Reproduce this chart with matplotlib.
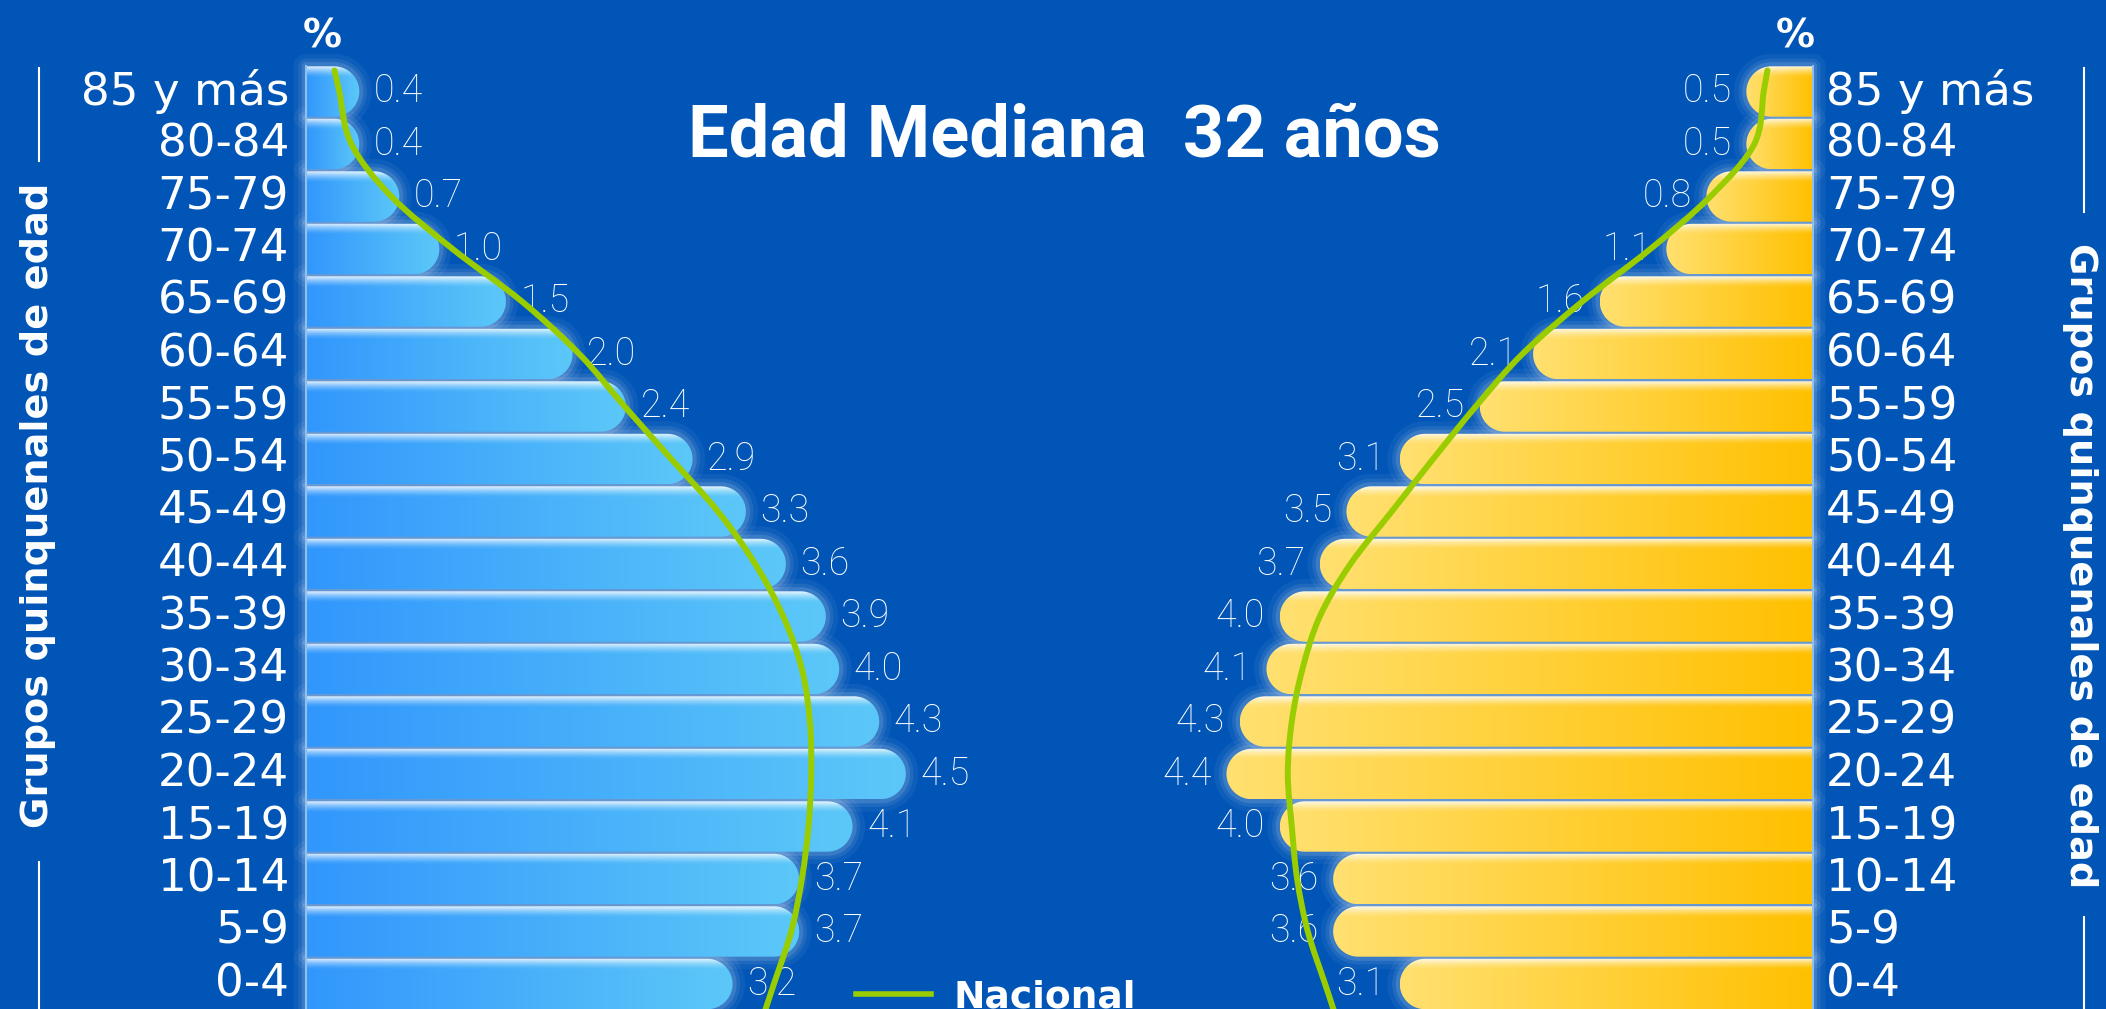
import numpy as np
import matplotlib
matplotlib.use('Agg')
import matplotlib.pyplot as plt
from matplotlib.colors import to_rgb
from matplotlib.path import Path
from matplotlib.patches import PathPatch
from matplotlib.lines import Line2D

# datos (de arriba hacia abajo)
grupos = ['85 y más', '80-84', '75-79', '70-74', '65-69', '60-64', '55-59', '50-54',
          '45-49', '40-44', '35-39', '30-34', '25-29', '20-24', '15-19', '10-14', '5-9', '0-4']
hombres = [0.4, 0.4, 0.7, 1.0, 1.5, 2.0, 2.4, 2.9, 3.3, 3.6, 3.9, 4.0, 4.3, 4.5, 4.1, 3.7, 3.7, 3.2]
mujeres = [0.5, 0.5, 0.8, 1.1, 1.6, 2.1, 2.5, 3.1, 3.5, 3.7, 4.0, 4.1, 4.3, 4.4, 4.0, 3.6, 3.6, 3.1]
# curva nacional
nacional_h = [0.25, 0.34, 0.64, 1.10, 1.62, 2.05, 2.39, 2.74, 3.09, 3.37, 3.58, 3.72, 3.78, 3.79, 3.77, 3.72, 3.64, 3.51]
nacional_m = [0.37, 0.44, 0.77, 1.22, 1.73, 2.18, 2.53, 2.85, 3.16, 3.47, 3.70, 3.83, 3.91, 3.94, 3.91, 3.87, 3.79, 3.66]

AZUL = '#0155B7'
VERDE = '#9ACD00'
W_PX, H_PX, DPI = 2106, 1009, 100
ESC_X = 133.3      # px por 1 %
ESC_Y = 52.5       # px por fila
X0_PX, X1_PX = 306, 1813
Y0_PX = 984
W = (X1_PX - X0_PX) / ESC_X
ALTO = 0.96

fig = plt.figure(figsize=(W_PX / DPI, H_PX / DPI), dpi=DPI, facecolor=AZUL)
ax = fig.add_axes([0, 0, 1, 1])
ax.set_facecolor(AZUL)
ax.axis('off')

n = len(grupos)
ypos = np.arange(n)[::-1]


def imagen_gradiente(c_ini, c_fin, nx=256, ny=64):
    c_ini, c_fin = np.array(to_rgb(c_ini)), np.array(to_rgb(c_fin))
    t = np.linspace(0, 1, nx)[:, None]
    base = (1 - t) * c_ini + t * c_fin
    s = np.linspace(0, 1, ny)
    brillo = 0.85 * np.clip(1 - s / 0.22, 0, 1) ** 1.5
    return base[None, :, :] * (1 - brillo[:, None, None]) + brillo[:, None, None]


def ruta_barra(base, largo, yc, sentido):
    ry = ALTO / 2
    rx = min(ry * ESC_Y / ESC_X, largo)
    xs = base + sentido * (largo - rx)
    t = np.linspace(-np.pi / 2, np.pi / 2, 40)
    verts = [(base, yc - ry)] + list(zip(xs + sentido * rx * np.cos(t), yc + ry * np.sin(t)))
    verts += [(base, yc + ry), (base, yc - ry)]
    return Path(verts, closed=True)


def barra(base, largo, yc, sentido, c_ini, c_fin):
    ruta = ruta_barra(base, largo, yc, sentido)
    for lw, a in [(18, 0.05), (11, 0.08), (6, 0.12)]:
        ax.add_patch(PathPatch(ruta, facecolor='none', edgecolor='white', lw=lw,
                               alpha=a, joinstyle='round', zorder=1))
    clip = PathPatch(ruta, facecolor='none', edgecolor='none')
    ax.add_patch(clip)
    x_a, x_b = sorted([base, base + sentido * largo])
    im = ax.imshow(imagen_gradiente(c_ini, c_fin), extent=[x_a, x_b, yc - ALTO / 2, yc + ALTO / 2],
                   aspect='auto', zorder=2, interpolation='bilinear')
    im.set_clip_path(clip)


fuente_valor = dict(family=['Roboto', 'Lato', 'DejaVu Sans'], weight='light', fontsize=27, color='white')
for y, v in zip(ypos, hombres):
    barra(0, v, y, 1, '#3197FD', '#5CC8F8')
    ax.text(v + 0.11, y, f'{v:.1f}', ha='left', va='center', zorder=4, **fuente_valor)
for y, v in zip(ypos, mujeres):
    barra(W, v, y, -1, '#FFE070', '#FFC000')
    ax.text(W - v - 0.11, y, f'{v:.1f}', ha='right', va='center', zorder=4, **fuente_valor)

# lineas del eje
for xe in (0, W):
    ax.plot([xe, xe], [ypos.min() - ALTO / 2, ypos.max() + ALTO / 2], color='#8EC1F0', lw=1.5, zorder=3)

# etiquetas de grupos
for y, g in zip(ypos, grupos):
    ax.text(-(X0_PX - 289) / ESC_X, y, g, ha='right', va='center', fontsize=32.5, color='white')
    ax.text(W + (1826 - X1_PX) / ESC_X, y, g, ha='left', va='center', fontsize=32.5, color='white')


def curva(xs, ys):
    pts = np.column_stack([xs, ys]).astype(float)
    ini = pts[0] + (pts[0] - pts[1]) * 0.4
    fin = pts[-1] + (pts[-1] - pts[-2]) * 0.6
    pts = np.vstack([ini, pts, fin])
    verts, codes = [tuple(pts[0])], [Path.MOVETO]
    for i in range(len(pts) - 1):
        p0 = pts[max(i - 1, 0)]
        p1, p2 = pts[i], pts[i + 1]
        p3 = pts[min(i + 2, len(pts) - 1)]
        verts += [tuple(p1 + (p2 - p0) / 6), tuple(p2 - (p3 - p1) / 6), tuple(p2)]
        codes += [Path.CURVE4] * 3
    ax.add_patch(PathPatch(Path(verts, codes), facecolor='none', edgecolor=VERDE,
                           lw=4.3, capstyle='round', zorder=6))


curva(nacional_h, ypos)
curva(W - np.array(nacional_m), ypos)

ax.set_xlim(-X0_PX / ESC_X, (W_PX - X0_PX) / ESC_X)
ax.set_ylim(-(H_PX - Y0_PX) / ESC_Y, Y0_PX / ESC_Y)


def fx(px):
    return px / W_PX


def fy(px):
    return 1 - px / H_PX


fig.text(fx(1064), fy(137), 'Edad Mediana  32 años', ha='center', va='center', fontsize=52,
         weight='bold', color='white', family=['Roboto', 'DejaVu Sans'])
fig.text(fx(322), fy(36), '%', ha='center', va='center', fontsize=28, weight='bold', color='white')
fig.text(fx(1795), fy(36), '%', ha='center', va='center', fontsize=28, weight='bold', color='white')

fig.text(fx(38), fy(505), 'Grupos quinquenales de edad', rotation=90, ha='center', va='center',
         fontsize=27.5, weight='bold', color='white')
fig.text(fx(2080), fy(566), 'Grupos quinquenales de edad', rotation=270, ha='center', va='center',
         fontsize=27.5, weight='bold', color='white')
for x, y1, y2 in [(39, 68, 161), (39, 862, 1012), (2084, 68, 212), (2084, 917, 1012)]:
    fig.add_artist(Line2D([fx(x), fx(x)], [fy(y1), fy(y2)], transform=fig.transFigure,
                          color='white', lw=1.5))

ax.legend(handles=[Line2D([], [], color=VERDE, lw=4)], labels=['Nacional'],
          loc='center left', bbox_to_anchor=(fx(856), fy(997)), bbox_transform=fig.transFigure,
          frameon=False, borderpad=0, borderaxespad=0, handlelength=2.0, handletextpad=0.6,
          labelcolor='white', prop={'weight': 'bold', 'size': 27})

fig.savefig('out.png', dpi=DPI, facecolor=AZUL)
